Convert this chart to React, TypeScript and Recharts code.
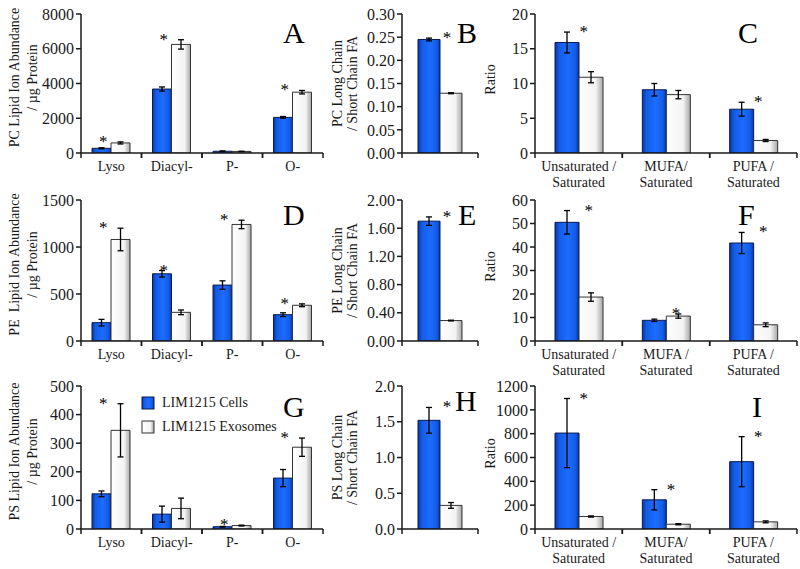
import React from 'react'
import { ComposedChart, Bar, XAxis, YAxis, ErrorBar, Scatter, Legend } from 'recharts'

const FONT = '"Liberation Serif", "Times New Roman", Times, serif'
const INK = '#1a1a1a'

// categories
const lipidClasses = ['Lyso', 'Diacyl-', 'P-', 'O-']
const chainCats = ['']
const ratioCats = ['Unsaturated /\nSaturated', 'MUFA/\nSaturated', 'PUFA /\nSaturated']
const ratioCatsF = ['Unsaturated /\nSaturated', 'MUFA /\nSaturated', 'PUFA /\nSaturated']

// A: PC abundance
const pcCells = [270, 3680, 100, 2050]
const pcCellsErr = [30, 120, 20, 50]
const pcExo = [580, 6250, 90, 3500]
const pcExoErr = [60, 270, 10, 100]
const pcSig = [true, true, false, true]
const pcTicks = [0, 2000, 4000, 6000, 8000]

// B: PC long / short chain
const pcChainCells = [0.245]
const pcChainCellsErr = [0.003]
const pcChainExo = [0.129]
const pcChainExoErr = [0.001]
const pcChainSig = [true]
const pcChainTicks = [0, 0.05, 0.1, 0.15, 0.2, 0.25, 0.3]

// C: PC ratios
const pcRatioCells = [15.9, 9.1, 6.3]
const pcRatioCellsErr = [1.5, 0.9, 1.0]
const pcRatioExo = [10.9, 8.4, 1.8]
const pcRatioExoErr = [0.8, 0.6, 0.15]
const pcRatioSig = [true, false, true]
const pcRatioTicks = [0, 5, 10, 15, 20]

// D: PE abundance
const peCells = [195, 715, 595, 280]
const peCellsErr = [35, 35, 45, 20]
const peExo = [1080, 305, 1240, 380]
const peExoErr = [120, 25, 45, 15]
const peSig = [true, true, true, true]
const peTicks = [0, 500, 1000, 1500]

// E: PE long / short chain
const peChainCells = [1.7]
const peChainCellsErr = [0.06]
const peChainExo = [0.29]
const peChainExoErr = [0.005]
const peChainSig = [true]
const peChainTicks = [0, 0.4, 0.8, 1.2, 1.6, 2.0]

// F: PE ratios
const peRatioCells = [50.5, 8.8, 41.7]
const peRatioCellsErr = [5, 0.5, 4.5]
const peRatioExo = [18.7, 10.6, 6.9]
const peRatioExoErr = [1.8, 0.9, 0.8]
const peRatioSig = [true, true, true]
const peRatioTicks = [0, 10, 20, 30, 40, 50, 60]

// G: PS abundance
const psCells = [123, 52, 8, 178]
const psCellsErr = [10, 28, 1, 30]
const psExo = [345, 72, 12, 286]
const psExoErr = [93, 36, 1.5, 32]
const psSig = [true, false, true, true]
const psTicks = [0, 100, 200, 300, 400, 500]

// H: PS long / short chain
const psChainCells = [1.52]
const psChainCellsErr = [0.18]
const psChainExo = [0.33]
const psChainExoErr = [0.04]
const psChainSig = [true]
const psChainTicks = [0, 0.5, 1.0, 1.5, 2.0]

// I: PS ratios
const psRatioCells = [805, 245, 565]
const psRatioCellsErr = [290, 85, 210]
const psRatioExo = [105, 40, 60]
const psRatioExoErr = [5, 5, 8]
const psRatioSig = [true, true, true]
const psRatioTicks = [0, 200, 400, 600, 800, 1000, 1200]

const seriesNames = ['LIM1215 Cells', 'LIM1215 Exosomes']

// layout
const COLS = [
  { left: 0, width: 330, axisW: 81, right: 7, barSize: 19, starDx: -8, labelX: [19, 37], labelDy: -6 },
  { left: 325, width: 158, axisW: 77, right: 5, barSize: 22, starDx: 7, labelX: [17, 32], labelDy: 0 },
  { left: 480, width: 320, axisW: 55, right: 3, barSize: 24, starDx: 5, labelX: [15], labelDy: -4 },
]
const ROWS = [
  { plotTop: 14, plotH: 139 },
  { plotTop: 200, plotH: 141 },
  { plotTop: 386, plotH: 143 },
]
const TOP_PAD = 14
const XAXIS_H = 40

const panels = [
  { letter: 'A', row: 0, col: 0, at: [283, 43], cats: lipidClasses, cells: pcCells, cellsErr: pcCellsErr, exo: pcExo, exoErr: pcExoErr, sig: pcSig, ticks: pcTicks, dec: 0, yLabel: ['PC Lipid Ion Abundance', '/ µg Protein'] },
  { letter: 'B', row: 0, col: 1, at: [457, 43], cats: chainCats, cells: pcChainCells, cellsErr: pcChainCellsErr, exo: pcChainExo, exoErr: pcChainExoErr, sig: pcChainSig, ticks: pcChainTicks, dec: 2, yLabel: ['PC Long Chain', '/ Short Chain FA'] },
  { letter: 'C', row: 0, col: 2, at: [738, 43], cats: ratioCats, cells: pcRatioCells, cellsErr: pcRatioCellsErr, exo: pcRatioExo, exoErr: pcRatioExoErr, sig: pcRatioSig, ticks: pcRatioTicks, dec: 0, yLabel: ['Ratio'] },
  { letter: 'D', row: 1, col: 0, at: [283, 225], cats: lipidClasses, cells: peCells, cellsErr: peCellsErr, exo: peExo, exoErr: peExoErr, sig: peSig, ticks: peTicks, dec: 0, yLabel: ['PE  Lipid Ion Abundance', '/ µg Protein'] },
  { letter: 'E', row: 1, col: 1, at: [458, 225], cats: chainCats, cells: peChainCells, cellsErr: peChainCellsErr, exo: peChainExo, exoErr: peChainExoErr, sig: peChainSig, ticks: peChainTicks, dec: 2, yLabel: ['PE Long Chain', '/ Short Chain FA'] },
  { letter: 'F', row: 1, col: 2, at: [738, 225], starDx: 10, cats: ratioCatsF, cells: peRatioCells, cellsErr: peRatioCellsErr, exo: peRatioExo, exoErr: peRatioExoErr, sig: peRatioSig, ticks: peRatioTicks, dec: 0, yLabel: ['Ratio'] },
  { letter: 'G', row: 2, col: 0, at: [283, 417], cats: lipidClasses, cells: psCells, cellsErr: psCellsErr, exo: psExo, exoErr: psExoErr, sig: psSig, ticks: psTicks, dec: 0, yLabel: ['PS Lipid Ion Abundance', '/ µg Protein'], legend: true },
  { letter: 'H', row: 2, col: 1, at: [455, 411], cats: chainCats, cells: psChainCells, cellsErr: psChainCellsErr, exo: psChainExo, exoErr: psChainExoErr, sig: psChainSig, ticks: psChainTicks, dec: 1, yLabel: ['PS Long Chain', '/ Short Chain FA'] },
  { letter: 'I', row: 2, col: 2, at: [752, 417], cats: ratioCats, cells: psRatioCells, cellsErr: psRatioCellsErr, exo: psRatioExo, exoErr: psRatioExoErr, sig: psRatioSig, ticks: psRatioTicks, dec: 0, yLabel: ['Ratio'] },
]

const CatTick = (props: any) => {
  const { x, y, payload, bw } = props
  const lines = String(payload.value).split('\n')
  return (
    <g>
      <line x1={x - bw / 2} x2={x - bw / 2} y1={y} y2={y + 5} stroke={INK} strokeWidth={1.5} />
      <line x1={x + bw / 2} x2={x + bw / 2} y1={y} y2={y + 5} stroke={INK} strokeWidth={1.5} />
      {lines.map((l, i) => (
        <text key={i} x={x} y={y + 18 + i * 16} textAnchor="middle" fontFamily={FONT} fontSize={14} fill={INK}>
          {l}
        </text>
      ))}
    </g>
  )
}

const Star = (props: any) => {
  const { cx, cy, payload, dx } = props
  if (payload == null || payload.sigTop == null) return <g />
  return (
    <text x={cx + dx} y={cy + 5} textAnchor="middle" fontFamily={FONT} fontSize={17} fill="#000" stroke="none">
      *
    </text>
  )
}

const LegendBox = () => (
  <div style={{ fontFamily: FONT, fontSize: 14, color: INK }}>
    {seriesNames.map((name, i) => (
      <div key={name} style={{ display: 'flex', alignItems: 'center', height: 24, whiteSpace: 'nowrap' }}>
        <svg width={14} height={14} style={{ marginRight: 7 }}>
          <rect x={1} y={1} width={12} height={12} fill={i === 0 ? 'url(#blueFill)' : 'url(#whiteFill)'} stroke={i === 0 ? '#0b1a50' : '#333'} />
        </svg>
        <span>{name}</span>
      </div>
    ))}
  </div>
)

const Panel = ({ p }: { p: any }) => {
  const col = COLS[p.col]
  const row = ROWS[p.row]
  const data = p.cats.map((name: string, i: number) => ({
    name,
    cells: p.cells[i],
    cellsErr: p.cellsErr[i],
    exo: p.exo[i],
    exoErr: p.exoErr[i],
    sigTop: p.sig[i] ? Math.max(p.cells[i] + p.cellsErr[i], p.exo[i] + p.exoErr[i]) : null,
  }))
  const plotW = col.width - col.axisW - col.right
  const bw = plotW / p.cats.length
  const max = p.ticks[p.ticks.length - 1]
  const cy = TOP_PAD + row.plotH / 2 + col.labelDy
  const starDx = p.starDx ?? col.starDx

  return (
    <div style={{ position: 'absolute', left: col.left, top: row.plotTop - TOP_PAD }}>
      <ComposedChart
        width={col.width}
        height={row.plotH + TOP_PAD + XAXIS_H}
        data={data}
        margin={{ top: TOP_PAD, right: col.right, left: 0, bottom: 0 }}
        barGap={0}
      >
        <XAxis
          dataKey="name"
          height={XAXIS_H}
          interval={0}
          axisLine={{ stroke: INK, strokeWidth: 1.5 }}
          tickLine={false}
          tickSize={0}
          tickMargin={0}
          tick={(tp: any) => <CatTick {...tp} bw={bw} />}
        />
        <YAxis
          type="number"
          width={col.axisW}
          domain={[0, max]}
          ticks={p.ticks}
          interval={0}
          allowDataOverflow
          axisLine={{ stroke: INK, strokeWidth: 1.5 }}
          tickLine={{ stroke: INK, strokeWidth: 1.5 }}
          tickSize={5}
          tickMargin={2}
          tick={{ fontSize: 16, fill: INK, fontFamily: FONT }}
          tickFormatter={(v: number) => v.toFixed(p.dec)}
          label={{
            content: () => (
              <g>
                {p.yLabel.map((l: string, i: number) => (
                  <text
                    key={i}
                    x={col.labelX[i]}
                    y={cy}
                    transform={`rotate(-90, ${col.labelX[i]}, ${cy})`}
                    textAnchor="middle"
                    fontFamily={FONT}
                    fontSize={14}
                    fill={INK}
                    style={{ whiteSpace: 'pre' }}
                  >
                    {l}
                  </text>
                ))}
              </g>
            ),
          }}
        />
        <Bar dataKey="cells" name={seriesNames[0]} fill="url(#blueFill)" stroke="#0b1a50" strokeWidth={1} barSize={col.barSize} isAnimationActive={false}>
          <ErrorBar dataKey="cellsErr" width={3} stroke="#000" strokeWidth={1.3} />
        </Bar>
        <Bar dataKey="exo" name={seriesNames[1]} fill="url(#whiteFill)" stroke="#333" strokeWidth={1} barSize={col.barSize} isAnimationActive={false}>
          <ErrorBar dataKey="exoErr" width={3} stroke="#000" strokeWidth={1.3} />
        </Bar>
        <Scatter dataKey="sigTop" fill="#000" isAnimationActive={false} shape={(sp: any) => <Star {...sp} dx={starDx} />} legendType="none" />
        {p.legend && (
          <Legend
            layout="vertical"
            align="center"
            verticalAlign="middle"
            wrapperStyle={{ left: 141, top: 19, width: 200, height: 50 }}
            content={() => <LegendBox />}
          />
        )}
      </ComposedChart>
    </div>
  )
}

const App = () => {
  return (
    <div style={{ position: 'absolute', left: 0, top: 0, width: 800, height: 569, background: '#fff', overflow: 'hidden', fontFamily: FONT }}>
      <svg width={0} height={0} style={{ position: 'absolute' }}>
        <defs>
          <linearGradient id="blueFill" x1="0" y1="0" x2="1" y2="0">
            <stop offset="0%" stopColor="#0a36a6" />
            <stop offset="18%" stopColor="#135ce6" />
            <stop offset="55%" stopColor="#1d6dff" />
            <stop offset="85%" stopColor="#135ce6" />
            <stop offset="100%" stopColor="#0a36a6" />
          </linearGradient>
          <linearGradient id="whiteFill" x1="0" y1="0" x2="1" y2="0">
            <stop offset="0%" stopColor="#ffffff" />
            <stop offset="70%" stopColor="#f3f3f3" />
            <stop offset="100%" stopColor="#a6a6a6" />
          </linearGradient>
        </defs>
      </svg>
      {panels.map((p) => (
        <Panel key={p.letter} p={p} />
      ))}
      <svg width={800} height={569} style={{ position: 'absolute', left: 0, top: 0, pointerEvents: 'none' }}>
        {panels.map((p) => (
          <text key={p.letter} x={p.at[0]} y={p.at[1]} fontFamily={FONT} fontSize={30} fill="#000">
            {p.letter}
          </text>
        ))}
      </svg>
    </div>
  )
}

export default App
